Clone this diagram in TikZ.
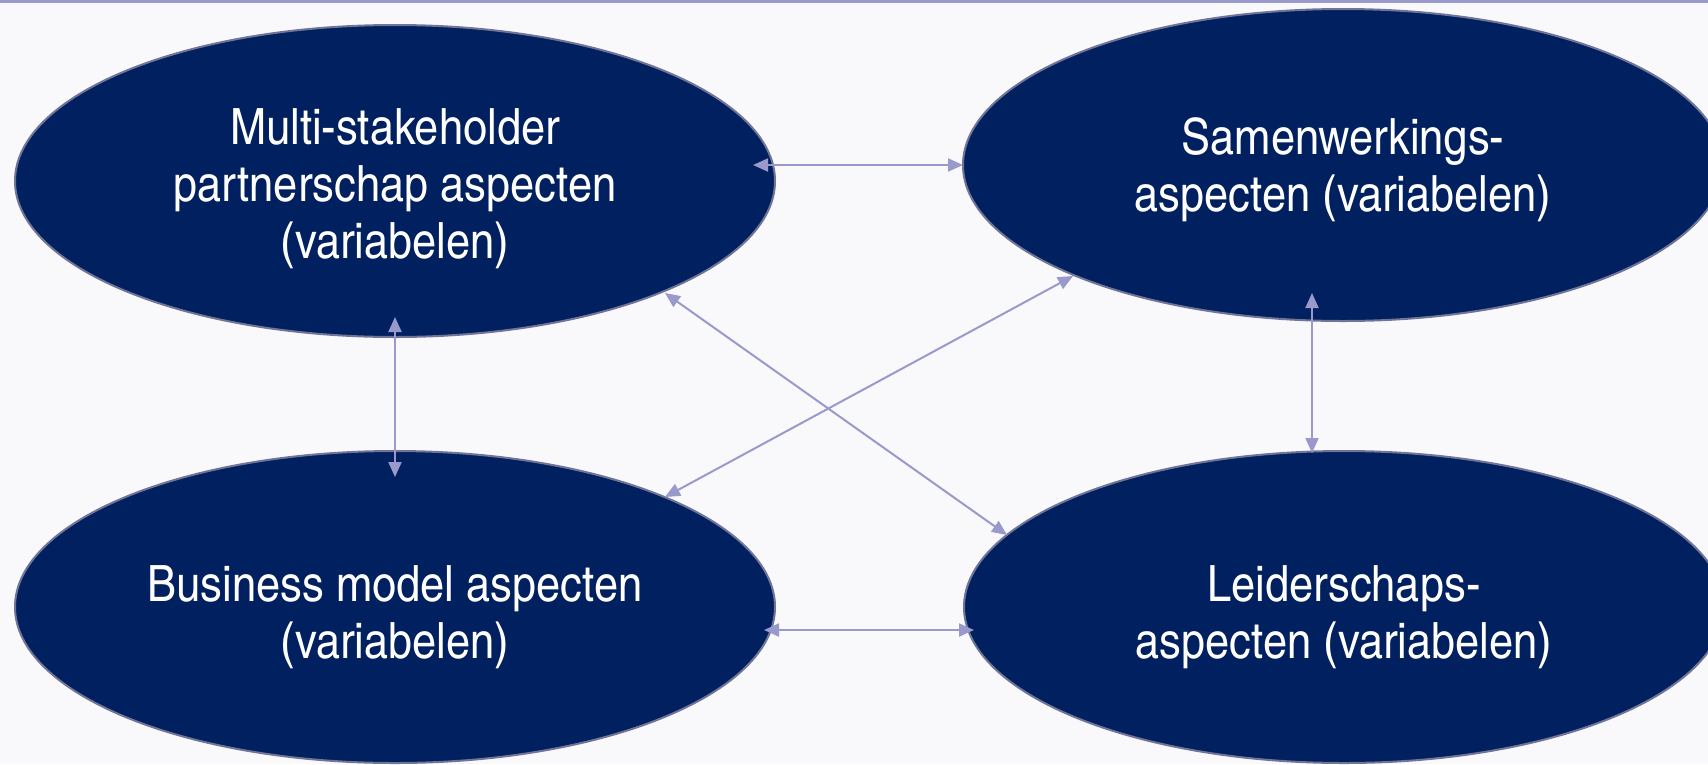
\documentclass[tikz,border=0pt]{standalone}
\usepackage{fontspec}
\setmainfont{TeX Gyre Heros Cn}[FakeStretch=1.06]
\usetikzlibrary{shapes.geometric,arrows.meta}
\definecolor{navy}{RGB}{0,32,96}
\definecolor{rim}{RGB}{112,116,150}
\definecolor{arr}{RGB}{153,153,204}
\definecolor{bg}{RGB}{249,249,252}
\begin{document}
\begin{tikzpicture}[x=1pt,y=-1pt,
  bubble/.style={ellipse,draw=rim,line width=2pt,fill=navy,minimum width=760pt,minimum height=312pt,inner sep=0pt},
  label text/.style={text=white,align=center,inner sep=0pt,font=\fontsize{50}{57}\selectfont},
  link/.style={draw=arr,line width=2pt,{Triangle[length=15pt,width=13pt]}-{Triangle[length=15pt,width=13pt]}}]
\useasboundingbox (0,0) rectangle (1708,764);
\fill[bg] (0,0) rectangle (1708,764);
\begin{scope}
\clip (0,0) rectangle (1708,764);
\node[bubble] (mp) at (395,181) {};
\node[bubble] (sw) at (1343,165) {};
\node[bubble] (bm) at (395,607) {};
\node[bubble] (ls) at (1344,607) {};
\end{scope}
\node[label text] (mpt) at ([yshift=-8pt]mp.center) {Multi-stakeholder\\partnerschap aspecten\\(variabelen)};
\node[label text] (swt) at ([yshift=-5pt]sw.center) {Samenwerkings-\\aspecten (variabelen)};
\node[label text] (bmt) at ([yshift=-10pt]bm.center) {Business model aspecten\\(variabelen)};
\node[label text] (lst) at ([yshift=-10pt]ls.center) {Leiderschaps-\\aspecten (variabelen)};
\draw[arr,line width=3pt] (0,1.5) -- (1708,1.5);
\coordinate (a1) at (753,165);
\coordinate (a2) at (963,165);
\coordinate (b1) at (764,630);
\coordinate (b2) at (974,630);
\coordinate (c1) at (395,317);
\coordinate (c2) at (395,477);
\coordinate (d1) at (1312,293);
\coordinate (d2) at (1312,453);
\coordinate (e1) at (665,293);
\coordinate (e2) at (1007,535);
\coordinate (f1) at (1073,276);
\coordinate (f2) at (665,497);
\draw[link] (a1) -- (a2);
\draw[link] (b1) -- (b2);
\draw[link] (c1) -- (c2);
\draw[link] (d1) -- (d2);
\draw[link] (e1) -- (e2);
\draw[link] (f1) -- (f2);
\end{tikzpicture}
\end{document}
